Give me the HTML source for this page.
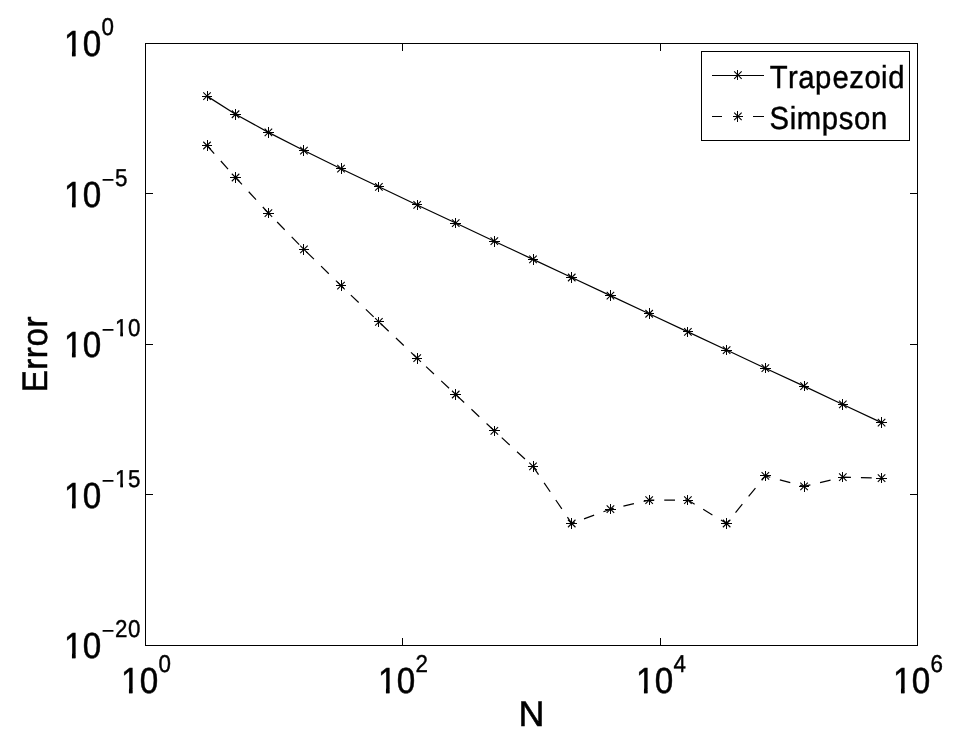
<!DOCTYPE html>
<html lang="en"><head><meta charset="utf-8"><title>Error vs N</title>
<style>
html,body{margin:0;padding:0;background:#fff;}
body{width:967px;height:738px;overflow:hidden;}
svg{display:block;}
text{font-family:"Liberation Sans",Arial,Helvetica,sans-serif;fill:#000;text-rendering:geometricPrecision;}
.t{font-size:34.6px;stroke:#000;stroke-width:0.5px;}
.e{font-size:23.3px;stroke-width:0.4px;}
.m{stroke:none;}
.l{font-size:30.5px;stroke:#000;stroke-width:0.4px;}
.ax{fill:#000;shape-rendering:crispEdges;}
.ln{fill:none;stroke:#000;stroke-width:1.2;}
.dg{fill:none;stroke:#000;stroke-width:1.1;}
</style></head><body>
<svg width="967" height="738" viewBox="0 0 967 738">
<rect width="967" height="738" fill="#fff"/>

<g class="ax">
<rect x="145" y="43" width="773" height="1"/>
<rect x="145" y="645" width="773" height="1"/>
<rect x="145" y="43" width="1" height="603"/>
<rect x="917" y="43" width="1" height="603"/>
<rect x="402" y="638" width="1" height="8"/>
<rect x="402" y="43" width="1" height="8"/>
<rect x="660" y="638" width="1" height="8"/>
<rect x="660" y="43" width="1" height="8"/>
<rect x="145" y="193" width="8" height="1"/>
<rect x="910" y="193" width="8" height="1"/>
<rect x="145" y="344" width="8" height="1"/>
<rect x="910" y="344" width="8" height="1"/>
<rect x="145" y="494" width="8" height="1"/>
<rect x="910" y="494" width="8" height="1"/>
</g>
<polyline class="ln" points="207.02,96.12 235.56,114.26 268.41,132.39 303.95,150.53 341.01,168.67 378.89,186.81 417.19,204.94 455.71,223.08 494.33,241.22 533.01,259.35 571.72,277.49 610.43,295.63 649.16,313.76 687.89,331.90 726.62,350.04 765.35,368.18 804.08,386.10 842.82,404.45 881.55,422.59"/>
<polyline class="ln" stroke-dasharray="10.8 9.96" points="207.02,145.50 235.56,177.50 268.41,213.10 303.95,249.40 341.01,285.65 378.89,321.90 417.19,358.20 455.71,394.50 494.33,430.85 533.01,466.40 571.72,523.50 610.43,509.10 649.16,500.05 687.89,500.05 726.62,523.50 765.35,475.90 804.08,486.40 842.82,477.10 881.55,478.10"/>
<path class="ax" d="M202 96h10v1h-10zM207 91h1v10h-1z"/><path class="dg" d="M203.27 92.37L210.77 99.87M203.27 99.87L210.77 92.37"/>
<path class="ax" d="M230 114h11v1h-11zM235 109h1v11h-1z"/><path class="dg" d="M231.81 110.51L239.31 118.01M231.81 118.01L239.31 110.51"/>
<path class="ax" d="M263 132h11v1h-11zM268 127h1v11h-1z"/><path class="dg" d="M264.66 128.64L272.16 136.14M264.66 136.14L272.16 128.64"/>
<path class="ax" d="M299 150h10v1h-10zM303 145h1v11h-1z"/><path class="dg" d="M300.20 146.78L307.70 154.28M300.20 154.28L307.70 146.78"/>
<path class="ax" d="M336 168h10v1h-10zM341 163h1v11h-1z"/><path class="dg" d="M337.26 164.92L344.76 172.42M337.26 172.42L344.76 164.92"/>
<path class="ax" d="M374 186h10v1h-10zM378 182h1v10h-1z"/><path class="dg" d="M375.14 183.06L382.64 190.56M375.14 190.56L382.64 183.06"/>
<path class="ax" d="M412 204h10v1h-10zM417 200h1v10h-1z"/><path class="dg" d="M413.44 201.19L420.94 208.69M413.44 208.69L420.94 201.19"/>
<path class="ax" d="M450 223h11v1h-11zM455 218h1v10h-1z"/><path class="dg" d="M451.96 219.33L459.46 226.83M451.96 226.83L459.46 219.33"/>
<path class="ax" d="M489 241h11v1h-11zM494 236h1v11h-1z"/><path class="dg" d="M490.58 237.47L498.08 244.97M490.58 244.97L498.08 237.47"/>
<path class="ax" d="M528 259h10v1h-10zM533 254h1v11h-1z"/><path class="dg" d="M529.26 255.60L536.76 263.10M529.26 263.10L536.76 255.60"/>
<path class="ax" d="M566 277h11v1h-11zM571 272h1v11h-1z"/><path class="dg" d="M567.97 273.74L575.47 281.24M567.97 281.24L575.47 273.74"/>
<path class="ax" d="M605 295h11v1h-11zM610 290h1v11h-1z"/><path class="dg" d="M606.68 291.88L614.18 299.38M606.68 299.38L614.18 291.88"/>
<path class="ax" d="M644 313h10v1h-10zM649 308h1v11h-1z"/><path class="dg" d="M645.41 310.01L652.91 317.51M645.41 317.51L652.91 310.01"/>
<path class="ax" d="M683 331h10v1h-10zM687 327h1v10h-1z"/><path class="dg" d="M684.14 328.15L691.64 335.65M684.14 335.65L691.64 328.15"/>
<path class="ax" d="M721 350h11v1h-11zM726 345h1v10h-1z"/><path class="dg" d="M722.87 346.29L730.37 353.79M722.87 353.79L730.37 346.29"/>
<path class="ax" d="M760 368h11v1h-11zM765 363h1v10h-1z"/><path class="dg" d="M761.60 364.43L769.10 371.93M761.60 371.93L769.10 364.43"/>
<path class="ax" d="M799 386h10v1h-10zM804 381h1v10h-1z"/><path class="dg" d="M800.33 382.35L807.83 389.85M800.33 389.85L807.83 382.35"/>
<path class="ax" d="M838 404h10v1h-10zM842 399h1v11h-1z"/><path class="dg" d="M839.07 400.70L846.57 408.20M839.07 408.20L846.57 400.70"/>
<path class="ax" d="M876 422h11v1h-11zM881 417h1v11h-1z"/><path class="dg" d="M877.80 418.84L885.30 426.34M877.80 426.34L885.30 418.84"/>
<path class="ax" d="M202 145h10v1h-10zM207 140h1v11h-1z"/><path class="dg" d="M203.27 141.75L210.77 149.25M203.27 149.25L210.77 141.75"/>
<path class="ax" d="M230 177h11v1h-11zM235 172h1v11h-1z"/><path class="dg" d="M231.81 173.75L239.31 181.25M231.81 181.25L239.31 173.75"/>
<path class="ax" d="M263 213h11v1h-11zM268 208h1v10h-1z"/><path class="dg" d="M264.66 209.35L272.16 216.85M264.66 216.85L272.16 209.35"/>
<path class="ax" d="M299 249h10v1h-10zM303 244h1v11h-1z"/><path class="dg" d="M300.20 245.65L307.70 253.15M300.20 253.15L307.70 245.65"/>
<path class="ax" d="M336 285h10v1h-10zM341 280h1v11h-1z"/><path class="dg" d="M337.26 281.90L344.76 289.40M337.26 289.40L344.76 281.90"/>
<path class="ax" d="M374 321h10v1h-10zM378 317h1v10h-1z"/><path class="dg" d="M375.14 318.15L382.64 325.65M375.14 325.65L382.64 318.15"/>
<path class="ax" d="M412 358h10v1h-10zM417 353h1v11h-1z"/><path class="dg" d="M413.44 354.45L420.94 361.95M413.44 361.95L420.94 354.45"/>
<path class="ax" d="M450 394h11v1h-11zM455 389h1v11h-1z"/><path class="dg" d="M451.96 390.75L459.46 398.25M451.96 398.25L459.46 390.75"/>
<path class="ax" d="M489 430h11v1h-11zM494 426h1v10h-1z"/><path class="dg" d="M490.58 427.10L498.08 434.60M490.58 434.60L498.08 427.10"/>
<path class="ax" d="M528 466h10v1h-10zM533 461h1v11h-1z"/><path class="dg" d="M529.26 462.65L536.76 470.15M529.26 470.15L536.76 462.65"/>
<path class="ax" d="M566 523h11v1h-11zM571 518h1v11h-1z"/><path class="dg" d="M567.97 519.75L575.47 527.25M567.97 527.25L575.47 519.75"/>
<path class="ax" d="M605 509h11v1h-11zM610 504h1v10h-1z"/><path class="dg" d="M606.68 505.35L614.18 512.85M606.68 512.85L614.18 505.35"/>
<path class="ax" d="M644 500h10v1h-10zM649 495h1v10h-1z"/><path class="dg" d="M645.41 496.30L652.91 503.80M645.41 503.80L652.91 496.30"/>
<path class="ax" d="M683 500h10v1h-10zM687 495h1v10h-1z"/><path class="dg" d="M684.14 496.30L691.64 503.80M684.14 503.80L691.64 496.30"/>
<path class="ax" d="M721 523h11v1h-11zM726 518h1v11h-1z"/><path class="dg" d="M722.87 519.75L730.37 527.25M722.87 527.25L730.37 519.75"/>
<path class="ax" d="M760 475h11v1h-11zM765 471h1v10h-1z"/><path class="dg" d="M761.60 472.15L769.10 479.65M761.60 479.65L769.10 472.15"/>
<path class="ax" d="M799 486h10v1h-10zM804 481h1v11h-1z"/><path class="dg" d="M800.33 482.65L807.83 490.15M800.33 490.15L807.83 482.65"/>
<path class="ax" d="M838 477h10v1h-10zM842 472h1v10h-1z"/><path class="dg" d="M839.07 473.35L846.57 480.85M839.07 480.85L846.57 473.35"/>
<path class="ax" d="M876 478h11v1h-11zM881 473h1v10h-1z"/><path class="dg" d="M877.80 474.35L885.30 481.85M877.80 481.85L885.30 474.35"/>
<text class="t" transform="translate(63.5 56) scale(0.96 1.047)"><tspan x="0.40 20.03" y="0">10</tspan><tspan class="e" x="39.53" y="-20.06">0</tspan></text><path fill="#fff" d="M64.91 52.09H71.94V57.50H64.91zM75.47 52.09H81.94V57.50H75.47z"/><path d="M71.99 51.69H75.42V56.20H71.99z"/>
<text class="t" transform="translate(63.5 207) scale(0.96 1.047)"><tspan x="0.40 20.03" y="0">10</tspan><tspan class="e m" x="39.54" y="-17.76">−</tspan><tspan class="e" x="53.70" y="-20.06">5</tspan></text><path fill="#fff" d="M64.91 203.09H71.94V208.50H64.91zM75.47 203.09H81.94V208.50H75.47z"/><path d="M71.99 202.69H75.42V207.20H71.99z"/>
<text class="t" transform="translate(63.5 357) scale(0.96 1.047)"><tspan x="0.40 20.03" y="0">10</tspan><tspan class="e m" x="39.54" y="-17.76">−</tspan><tspan class="e" x="53.70" y="-20.06">1</tspan><tspan class="e" x="67.20" y="-20.06">0</tspan></text><path fill="#fff" d="M64.91 353.09H71.94V358.50H64.91zM75.47 353.09H81.94V358.50H75.47z"/><path d="M71.99 352.69H75.42V357.20H71.99z"/><path fill="#fff" d="M115.46 333.08H120.43V337.40H115.46zM122.90 333.08H127.30V337.40H122.90z"/><path d="M120.48 332.68H122.85V336.15H120.48z"/>
<text class="t" transform="translate(63.5 508) scale(0.96 1.047)"><tspan x="0.40 20.03" y="0">10</tspan><tspan class="e m" x="39.54" y="-17.76">−</tspan><tspan class="e" x="53.70" y="-20.06">1</tspan><tspan class="e" x="67.20" y="-20.06">5</tspan></text><path fill="#fff" d="M64.91 504.09H71.94V509.50H64.91zM75.47 504.09H81.94V509.50H75.47z"/><path d="M71.99 503.69H75.42V508.20H71.99z"/><path fill="#fff" d="M115.46 484.08H120.43V488.40H115.46zM122.90 484.08H127.30V488.40H122.90z"/><path d="M120.48 483.68H122.85V487.15H120.48z"/>
<text class="t" transform="translate(63.5 658) scale(0.96 1.047)"><tspan x="0.40 20.03" y="0">10</tspan><tspan class="e m" x="39.54" y="-17.76">−</tspan><tspan class="e" x="53.70" y="-20.06">2</tspan><tspan class="e" x="67.20" y="-20.06">0</tspan></text><path fill="#fff" d="M64.91 654.09H71.94V659.50H64.91zM75.47 654.09H81.94V659.50H75.47z"/><path d="M71.99 653.69H75.42V658.20H71.99z"/>
<text class="t" transform="translate(120.5 693) scale(0.96 1.047)"><tspan x="0.40 20.03" y="0">10</tspan><tspan class="e" x="39.53" y="-20.06">0</tspan></text><path fill="#fff" d="M121.91 689.09H128.94V694.50H121.91zM132.47 689.09H138.94V694.50H132.47z"/><path d="M128.99 688.69H132.42V693.20H128.99z"/>
<text class="t" transform="translate(377.5 693) scale(0.96 1.047)"><tspan x="0.40 20.03" y="0">10</tspan><tspan class="e" x="39.53" y="-20.06">2</tspan></text><path fill="#fff" d="M378.91 689.09H385.94V694.50H378.91zM389.47 689.09H395.94V694.50H389.47z"/><path d="M385.99 688.69H389.42V693.20H385.99z"/>
<text class="t" transform="translate(635.5 693) scale(0.96 1.047)"><tspan x="0.40 20.03" y="0">10</tspan><tspan class="e" x="39.53" y="-20.06">4</tspan></text><path fill="#fff" d="M636.91 689.09H643.94V694.50H636.91zM647.47 689.09H653.94V694.50H647.47z"/><path d="M643.99 688.69H647.42V693.20H643.99z"/>
<text class="t" transform="translate(892.5 693) scale(0.96 1.047)"><tspan x="0.40 20.03" y="0">10</tspan><tspan class="e" x="39.53" y="-20.06">6</tspan></text><path fill="#fff" d="M893.91 689.09H900.94V694.50H893.91zM904.47 689.09H910.94V694.50H904.47z"/><path d="M900.99 688.69H904.42V693.20H900.99z"/>
<text class="t" transform="translate(518.6 726) scale(1.04 1.03)">N</text>
<text class="t" transform="translate(47 392.6) rotate(-90) scale(0.96 1.025)" x="0.48 23.86 35.87 48.03 67.91">Error</text>
<g class="ax">
<rect x="701" y="51" width="209" height="1"/><rect x="701" y="140" width="209" height="1"/><rect x="701" y="51" width="1" height="90"/><rect x="909" y="51" width="1" height="90"/></g>
<path class="ax" d="M712 75h52v1h-52zM712 116h10v1h-10zM753 116h11v1h-11z"/>
<path class="ax" d="M733 75h10v1h-10zM737 70h1v10h-1z"/><path class="dg" d="M734.15 71.35L741.65 78.85M734.15 78.85L741.65 71.35"/>
<path class="ax" d="M733 116h10v1h-10zM737 111h1v11h-1z"/><path class="dg" d="M734.15 112.55L741.65 120.05M734.15 120.05L741.65 112.55"/>
<text class="l" transform="translate(769.1 88.0) scale(0.96 1.045)" x="0.60 19.72 30.29 47.91 65.99 83.52 99.34 116.69 124.07">Trapezoid</text>
<text class="l" transform="translate(769.1 128.8) scale(0.96 1.045)" x="0.32 21.54 28.78 54.76 72.44 88.36 106.08">Simpson</text>
</svg></body></html>
